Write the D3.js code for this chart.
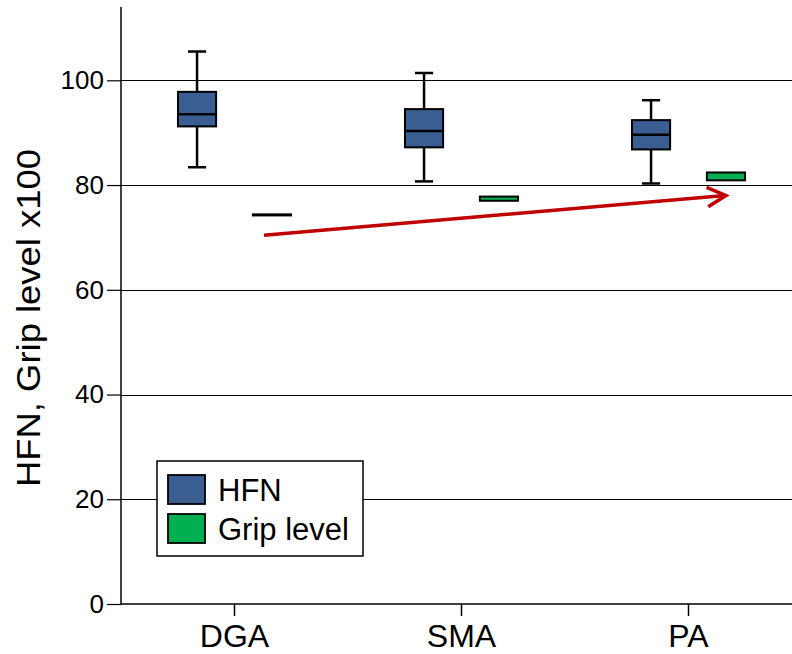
<!DOCTYPE html>
<html><head><meta charset="utf-8">
<script src="https://cdn.jsdelivr.net/npm/d3@7"></script>
<style>body{margin:0;background:#fff}svg{display:block}text{font-family:"Liberation Sans",Arial,sans-serif;fill:#000}</style>
</head><body><svg id="c" width="792" height="654"></svg>
<script>
const categories = ["DGA", "SMA", "PA"];
// HFN box stats
const hfnLow    = [83.4, 80.7, 80.3];
const hfnQ1     = [91.2, 87.2, 86.8];
const hfnMedian = [93.5, 90.3, 89.6];
const hfnQ3     = [97.8, 94.5, 92.4];
const hfnHigh   = [105.5, 101.4, 96.2];
// Grip level x100 (narrow range)
const gripLow   = [74.2, 77.0, 80.9];
const gripHigh  = [74.4, 77.8, 82.4];
const yTicks = [0, 20, 40, 60, 80, 100];
const arrowFrom = {cat: "DGA", value: 70.4};
const arrowTo   = {cat: "PA", value: 78.0};
const legendLabels = ["HFN", "Grip level"];

const svg = d3.select("#c");
const W = 792, H = 654;
const mLeft = 121, mBottom = 604, mTop = 7;
const x = d3.scaleBand().domain(categories).range([mLeft, 802]).padding(0);
const y = d3.scaleLinear().domain([0, 114]).range([mBottom, mTop]);
const bw = x.bandwidth();
const boxW = bw * 0.168, capW = bw * 0.08;
const hfnOff = -bw * 0.165, gripOff = bw * 0.165;
const blue = "#3a5e92", green = "#00b050";

// grid
svg.append("g").selectAll("line").data(yTicks.filter(d => d > 0)).join("line")
  .attr("x1", mLeft).attr("x2", W).attr("y1", d => Math.round(y(d)) + 0.5).attr("y2", d => Math.round(y(d)) + 0.5)
  .attr("stroke", "#000").attr("stroke-width", 1.2);

// axes
const ya = svg.append("g").attr("transform", `translate(${mLeft},0)`)
  .call(d3.axisLeft(y).tickValues(yTicks).tickSize(14).tickPadding(3));
ya.select(".domain").attr("d", `M0,${mTop}V${mBottom}`).attr("stroke-width", 1.5);
ya.selectAll(".tick line").attr("stroke-width", 1.2);
ya.selectAll("text").style("font-size", "26px").attr("font-family", null);

const xa = svg.append("g").attr("transform", `translate(0,${mBottom})`)
  .call(d3.axisBottom(x).tickSize(12).tickPadding(8));
xa.select(".domain").attr("d", `M${mLeft},0H${W}`).attr("stroke-width", 1.5);
xa.selectAll(".tick line").attr("stroke-width", 1.5);
xa.selectAll("text").style("font-size", "32px").attr("font-family", null).attr("dy", "0.72em");

// HFN boxes
const hfn = categories.map((c, i) => ({c, lo: hfnLow[i], q1: hfnQ1[i], med: hfnMedian[i], q3: hfnQ3[i], hi: hfnHigh[i]}));
const g = svg.append("g");
const bx = d => x(d.c) + bw / 2 + hfnOff;
g.selectAll(".wh").data(hfn).join("line")
  .attr("x1", bx).attr("x2", bx).attr("y1", d => y(d.hi)).attr("y2", d => y(d.lo))
  .attr("stroke", "#000").attr("stroke-width", 2.5);
g.selectAll(".caph").data(hfn).join("line")
  .attr("x1", d => bx(d) - capW / 2).attr("x2", d => bx(d) + capW / 2).attr("y1", d => y(d.hi)).attr("y2", d => y(d.hi))
  .attr("stroke", "#000").attr("stroke-width", 2.5);
g.selectAll(".capl").data(hfn).join("line")
  .attr("x1", d => bx(d) - capW / 2).attr("x2", d => bx(d) + capW / 2).attr("y1", d => y(d.lo)).attr("y2", d => y(d.lo))
  .attr("stroke", "#000").attr("stroke-width", 2.5);
g.selectAll(".box").data(hfn).join("rect")
  .attr("x", d => bx(d) - boxW / 2).attr("width", boxW)
  .attr("y", d => y(d.q3)).attr("height", d => y(d.q1) - y(d.q3))
  .attr("fill", blue).attr("stroke", "#000").attr("stroke-width", 2);
g.selectAll(".med").data(hfn).join("line")
  .attr("x1", d => bx(d) - boxW / 2).attr("x2", d => bx(d) + boxW / 2).attr("y1", d => y(d.med)).attr("y2", d => y(d.med))
  .attr("stroke", "#000").attr("stroke-width", 2.5);

// Grip boxes
const grip = categories.map((c, i) => ({c, lo: gripLow[i], hi: gripHigh[i]}));
const gx = d => x(d.c) + bw / 2 + gripOff;
g.selectAll(".gbox").data(grip).join("rect")
  .attr("x", d => gx(d) - boxW / 2).attr("width", boxW)
  .attr("y", d => y(d.hi)).attr("height", d => Math.max(0.5, y(d.lo) - y(d.hi)))
  .attr("fill", green).attr("stroke", "#000").attr("stroke-width", 2);

// Arrow
const ax1 = x(arrowFrom.cat) + bw / 2 + bw * 0.13, ay1 = y(arrowFrom.value);
const ax2 = x(arrowTo.cat) + bw / 2 + gripOff, ay2 = y(arrowTo.value);
const ang = Math.atan2(ay2 - ay1, ax2 - ax1), L = 21, spread = 0.48;
const red = "#c00000";
svg.append("line").attr("x1", ax1).attr("y1", ay1).attr("x2", ax2 - 1).attr("y2", ay2)
  .attr("stroke", red).attr("stroke-width", 3.5);
svg.append("path")
  .attr("d", `M${ax2 - L * Math.cos(ang - spread)},${ay2 - L * Math.sin(ang - spread)}L${ax2},${ay2}L${ax2 - L * Math.cos(ang + spread)},${ay2 - L * Math.sin(ang + spread)}`)
  .attr("fill", "none").attr("stroke", red).attr("stroke-width", 3.5).attr("stroke-linejoin", "miter");

// Legend
const lg = svg.append("g").attr("transform", "translate(157,461)");
lg.append("rect").attr("width", 206).attr("height", 95).attr("fill", "#fff").attr("stroke", "#000").attr("stroke-width", 1.5);
const li = lg.selectAll(".li").data(legendLabels).join("g").attr("transform", (d, i) => `translate(11,${14 + i * 39})`);
li.append("rect").attr("width", 37).attr("height", 29).attr("fill", (d, i) => i ? green : blue).attr("stroke", "#000").attr("stroke-width", 1.8);
li.append("text").attr("x", 50).attr("y", 26).style("font-size", "31px").text(d => d);

// Y title
svg.append("text").attr("transform", `translate(40,318) rotate(-90)`).attr("text-anchor", "middle")
  .style("font-size", "33px").attr("textLength", 338).attr("lengthAdjust", "spacingAndGlyphs")
  .text("HFN, Grip level x100");
</script></body></html>
